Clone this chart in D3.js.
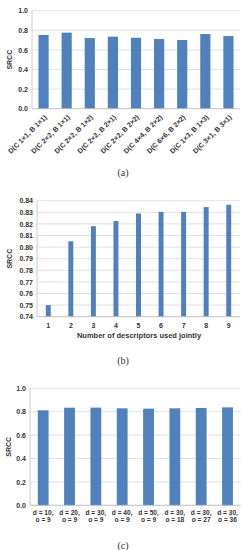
<!DOCTYPE html>
<html>
<head>
<meta charset="utf-8">
<script src="https://cdn.jsdelivr.net/npm/d3@7"></script>
<style>
  body { margin: 0; background: #fff; }
  svg text { font-family: "Liberation Sans", Arial, sans-serif; }
  .tick text { font-weight: bold; fill: #333; }
  .caption { font-family: "Liberation Serif", "DejaVu Serif", serif !important; font-size: 10px; fill: #333; }
</style>
</head>
<body>
<div id="chart"></div>
<script>
// panel (a)
var labelsA = ["D(C 1×1, B 1×1)", "D(C 2×2, B 1×1)", "D(C 2×2, B 1×2)", "D(C 2×2, B 2×1)",
  "D(C 2×2, B 2×2)", "D(C 4×4, B 2×2)", "D(C 6×6, B 2×2)", "D(C 1×3, B 1×3)", "D(C 3×1, B 3×1)"];
var valuesA = [0.752, 0.776, 0.721, 0.735, 0.724, 0.711, 0.701, 0.762, 0.741];
var ticksA = [0.0, 0.2, 0.4, 0.6, 0.8, 1.0];

// panel (b)
var labelsB = ["1", "2", "3", "4", "5", "6", "7", "8", "9"];
var valuesB = [0.750, 0.805, 0.818, 0.8225, 0.829, 0.8303, 0.8303, 0.8345, 0.8365];
var ticksB = [0.74, 0.75, 0.76, 0.77, 0.78, 0.79, 0.80, 0.81, 0.82, 0.83, 0.84];

// panel (c)
var labelsC = [["d = 10,", "o = 9"], ["d = 20,", "o = 9"], ["d = 30,", "o = 9"], ["d = 40,", "o = 9"],
  ["d = 50,", "o = 9"], ["d = 30,", "o = 18"], ["d = 30,", "o = 27"], ["d = 30,", "o = 36"]];
var valuesC = [0.812, 0.834, 0.835, 0.829, 0.826, 0.829, 0.832, 0.837];
var ticksC = [0.0, 0.2, 0.4, 0.6, 0.8, 1.0];

var svg = d3.select("#chart").append("svg")
  .attr("width", 249)
  .attr("height", 550);

var barColor = "#4f81bd";

function drawPanel(cfg) {
  var g = svg.append("g");
  var x = d3.scaleBand()
    .domain(d3.range(cfg.values.length))
    .range([cfg.left, cfg.right])
    .paddingInner(cfg.pad)
    .paddingOuter(cfg.pad / 2);
  var y = d3.scaleLinear()
    .domain(cfg.domain)
    .range([cfg.bottom, cfg.top]);

  // gridlines
  g.append("g")
    .selectAll("line")
    .data(cfg.ticks)
    .enter()
    .append("line")
    .attr("x1", cfg.left)
    .attr("x2", cfg.right)
    .attr("y1", (d) => y(d))
    .attr("y2", (d) => y(d))
    .attr("stroke", "#d9d9d9")
    .attr("stroke-width", 0.8);

  // left axis line
  g.append("line")
    .attr("x1", cfg.left).attr("x2", cfg.left)
    .attr("y1", cfg.top).attr("y2", cfg.bottom)
    .attr("stroke", "#bfbfbf").attr("stroke-width", 0.8);

  var yAxis = g.append("g")
    .attr("transform", "translate(" + cfg.left + ",0)")
    .call(d3.axisLeft(y).tickValues(cfg.ticks).tickFormat(d3.format(cfg.fmt)).tickSize(0).tickPadding(4));
  yAxis.select(".domain").remove();
  yAxis.selectAll("text").style("font-size", "7px");

  // bars
  g.selectAll("rect")
    .data(cfg.values)
    .enter()
    .append("rect")
    .attr("x", (d, i) => x(i))
    .attr("y", (d) => y(d))
    .attr("width", x.bandwidth())
    .attr("height", (d) => cfg.bottom - y(d))
    .attr("fill", barColor);

  // bottom axis line
  g.append("line")
    .attr("x1", cfg.left).attr("x2", cfg.right)
    .attr("y1", cfg.bottom).attr("y2", cfg.bottom)
    .attr("stroke", "#bfbfbf").attr("stroke-width", 0.8);

  // y title
  g.append("text")
    .attr("transform", "translate(" + cfg.titleX + "," + (cfg.top + cfg.bottom) / 2 + ") rotate(-90)")
    .attr("text-anchor", "middle")
    .style("font-size", "7px")
    .style("font-weight", "bold")
    .attr("fill", "#333")
    .text("SRCC");

  cfg.drawLabels(g, x);

  g.append("text")
    .attr("class", "caption")
    .attr("x", cfg.captionX)
    .attr("y", cfg.captionY)
    .attr("text-anchor", "middle")
    .text(cfg.caption);
}

drawPanel({
  values: valuesA, ticks: ticksA, domain: [0, 1], fmt: ".1f",
  left: 32, right: 240, top: 10.7, bottom: 108.7, pad: 0.56,
  titleX: 12, caption: "(a)", captionX: 123, captionY: 176,
  drawLabels: function (g, x) {
    g.selectAll(".xl")
      .data(labelsA)
      .enter()
      .append("text")
      .attr("class", "xl")
      .attr("transform", (d, i) => "translate(" + (x(i) + x.bandwidth() / 2 + 2) + ",116) rotate(-45)")
      .attr("text-anchor", "end")
      .attr("dy", "0.35em")
      .style("font-size", "7px")
      .style("font-weight", "bold")
      .attr("fill", "#333")
      .text((d) => d);
  }
});

drawPanel({
  values: valuesB, ticks: ticksB, domain: [0.74, 0.84], fmt: ".2f",
  left: 37, right: 240, top: 200.7, bottom: 316.7, pad: 0.78,
  titleX: 12, caption: "(b)", captionX: 123, captionY: 364,
  drawLabels: function (g, x) {
    g.selectAll(".xl")
      .data(labelsB)
      .enter()
      .append("text")
      .attr("class", "xl")
      .attr("x", (d, i) => x(i) + x.bandwidth() / 2)
      .attr("y", 327.5)
      .attr("text-anchor", "middle")
      .style("font-size", "7px")
      .style("font-weight", "bold")
      .attr("fill", "#333")
      .text((d) => d);
    g.append("text")
      .attr("x", 139)
      .attr("y", 337.5)
      .attr("text-anchor", "middle")
      .style("font-size", "7.5px")
      .style("font-weight", "bold")
      .attr("fill", "#333")
      .text("Number of descriptors used jointly");
  }
});

drawPanel({
  values: valuesC, ticks: ticksC, domain: [0, 1], fmt: ".1f",
  left: 30, right: 240.7, top: 388.3, bottom: 505.3, pad: 0.59,
  titleX: 11, caption: "(c)", captionX: 123, captionY: 549,
  drawLabels: function (g, x) {
    var lab = g.selectAll(".xl")
      .data(labelsC)
      .enter()
      .append("text")
      .attr("class", "xl")
      .attr("text-anchor", "middle")
      .style("font-size", "6.6px")
      .style("font-weight", "bold")
      .attr("fill", "#333");
    lab.selectAll("tspan")
      .data((d, i) => d.map((s) => ({ s: s, i: i })))
      .enter()
      .append("tspan")
      .attr("x", (d) => x(d.i) + x.bandwidth() / 2)
      .attr("y", (d, j) => 514.5 + j * 7.5)
      .text((d) => d.s);
  }
});
</script>
</body>
</html>
